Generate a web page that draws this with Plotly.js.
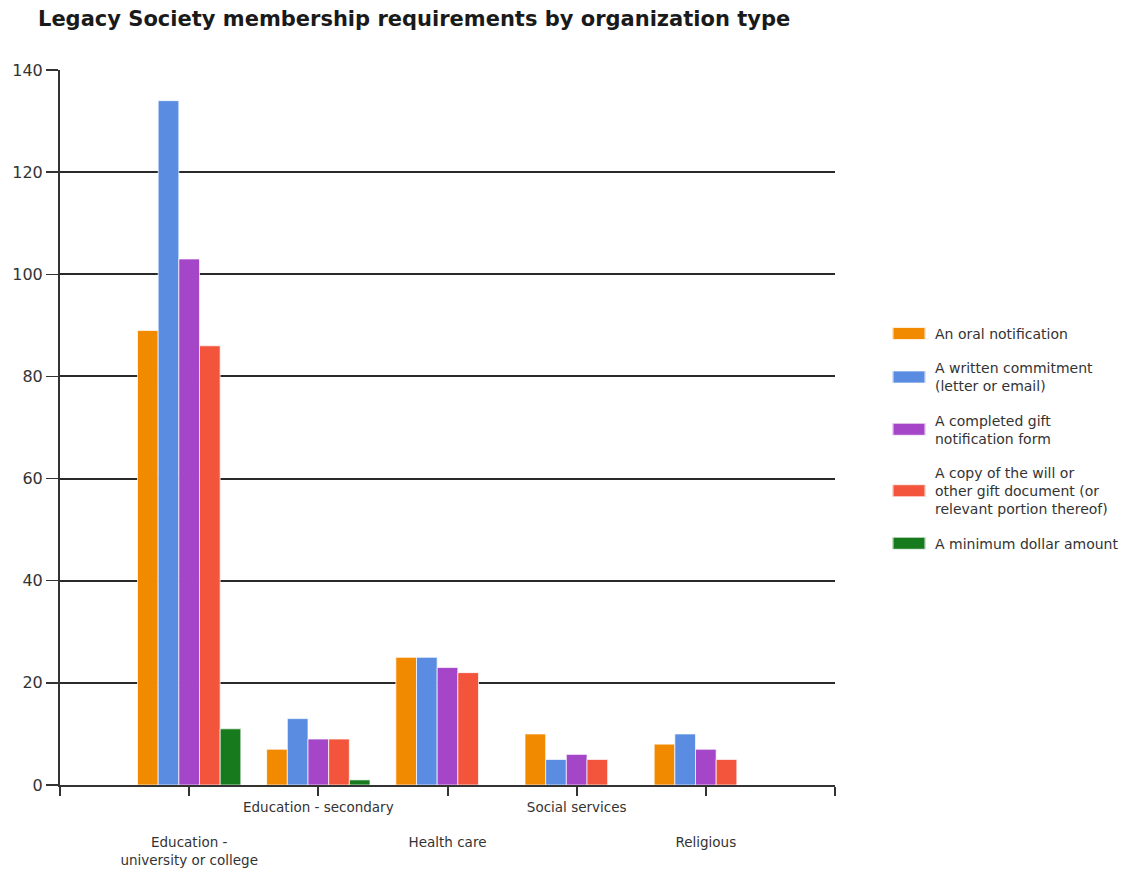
<!DOCTYPE html>
<html>
<head>
<meta charset="utf-8">
<script src="https://cdn.plot.ly/plotly-3.0.1.min.js"></script>
<style>
  html, body { margin: 0; padding: 0; background: #ffffff; }
  #chart { width: 1135px; height: 873px; }
</style>
</head>
<body>
<div id="chart"></div>
<script>
// Organization types (x categories)
const categories = [
  "Education - university or college",
  "Education - secondary",
  "Health care",
  "Social services",
  "Religious"
];

// Tick labels, staggered on two rows
const tickLabels = [
  "&nbsp;<br>&nbsp;<br>Education -<br>university or college",
  "Education - secondary",
  "&nbsp;<br>&nbsp;<br>Health care",
  "Social services",
  "&nbsp;<br>&nbsp;<br>Religious"
];

// Series names as shown in the legend
const seriesNames = [
  "An oral notification",
  "A written commitment<br>(letter or email)",
  "A completed gift<br>notification form",
  "A copy of the will or<br>other gift document (or<br>relevant portion thereof)",
  "A minimum dollar amount"
];

// Counts per series, one value per organization type
const oralNotification     = [89, 7, 25, 10, 8];
const writtenCommitment    = [134, 13, 25, 5, 10];
const giftNotificationForm = [103, 9, 23, 6, 7];
const willCopy             = [86, 9, 22, 5, 5];
const minimumDollarAmount  = [11, 1, 0, 0, 0];

const seriesValues = [oralNotification, writtenCommitment, giftNotificationForm, willCopy, minimumDollarAmount];
const seriesColors = ["#F28A00", "#5A8DE2", "#A546C9", "#F2553C", "#177A1D"];

const FONT = "DejaVu Sans, Verdana, sans-serif";

// Categories sit at 1..n on a numeric axis so the outer edges can carry ticks too
const xPos = categories.map((c, i) => i + 1);

const traces = seriesValues.map((vals, k) => ({
  type: "bar",
  name: seriesNames[k],
  legendgroup: "g" + k,
  x: xPos,
  y: vals,
  customdata: categories,
  hovertemplate: "%{customdata}: %{y}<extra></extra>",
  marker: {
    color: seriesColors[k],
    line: { color: "rgba(255,255,255,0.7)", width: 1 }
  }
}));

const tickVals = [0].concat(xPos, [categories.length + 1]);
const tickText = [""].concat(tickLabels, [""]);

const layout = {
  width: 1135,
  height: 873,
  paper_bgcolor: "#ffffff",
  plot_bgcolor: "#ffffff",
  font: { family: FONT, color: "#333333" },
  margin: { l: 60, r: 300, t: 70, b: 88, pad: 0 },
  title: {
    text: "<b>Legacy Society membership requirements by organization type</b>",
    font: { size: 21, color: "#1a1a1a", family: FONT },
    x: 38 / 1135,
    xanchor: "left",
    xref: "container",
    y: 1 - 19 / 873,
    yref: "container",
    yanchor: "middle"
  },
  barmode: "group",
  bargap: 0.2,
  bargroupgap: 0,
  xaxis: {
    range: [0, categories.length + 1],
    tickmode: "array",
    tickvals: tickVals,
    ticktext: tickText,
    tickangle: 0,
    ticks: "outside",
    ticklen: 9,
    tickwidth: 2,
    tickcolor: "#333333",
    tickfont: { size: 13.5, color: "#333333" },
    showgrid: false,
    zeroline: false,
    showline: true,
    linecolor: "#333333",
    linewidth: 2,
    fixedrange: true
  },
  yaxis: {
    range: [0, 140],
    dtick: 20,
    tick0: 0,
    ticks: "outside",
    ticklen: 12,
    tickwidth: 1.5,
    tickcolor: "#333333",
    tickfont: { size: 16, color: "#333333" },
    showgrid: true,
    gridcolor: "#2a2a2a",
    gridwidth: 2,
    zeroline: false,
    showline: true,
    linecolor: "#333333",
    linewidth: 2,
    fixedrange: true
  },
  legend: {
    x: 881 / 1135,
    xref: "container",
    xanchor: "left",
    y: 1 - (318 - 70) / 715,
    yanchor: "top",
    font: { size: 14, color: "#333333" },
    tracegroupgap: 13,
    itemwidth: 44,
    bgcolor: "rgba(0,0,0,0)"
  },
  showlegend: true
};

Plotly.newPlot("chart", traces, layout, { displayModeBar: false, staticPlot: true }).then(function () {
  // Widen the legend swatches into flat bars
  document.querySelectorAll("#chart .legendpoints path").forEach(function (p) {
    const bb = p.getBBox();
    const cx = bb.x + bb.width / 2;
    const cy = bb.y + bb.height / 2;
    const base = p.getAttribute("transform") || "";
    p.setAttribute("transform", base + " translate(" + (cx + 1) + "," + cy + ") scale(2.8,1) translate(" + (-cx) + "," + (-cy) + ")");
  });
});
</script>
</body>
</html>
